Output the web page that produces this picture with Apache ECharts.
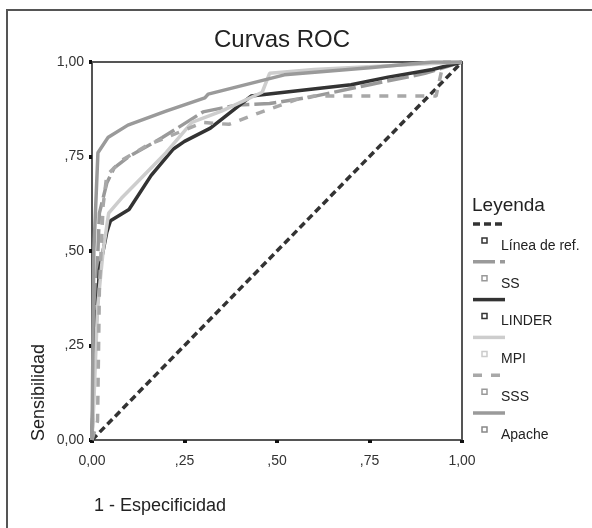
<!DOCTYPE html>
<html>
<head>
<meta charset="utf-8">
<script src="https://cdn.jsdelivr.net/npm/echarts@6/dist/echarts.min.js"></script>
<style>
  html, body { margin: 0; padding: 0; background: #fff; }
  #chart { width: 592px; height: 528px; }
</style>
</head>
<body>
<div id="chart"></div>
<script>
// ROC points as [1 - especificidad, sensibilidad]
const refLine = [[0, 0], [1, 1]];
const ssPts = [[0, 0], [0.01, 0.35], [0.02, 0.6], [0.04, 0.68], [0.06, 0.72], [0.1, 0.75], [0.19, 0.8],
  [0.3, 0.868], [0.39, 0.886], [0.48, 0.89], [0.59, 0.907], [0.75, 0.94], [0.9, 0.97], [1, 1]];
const linderPts = [[0, 0], [0.005, 0.2], [0.02, 0.45], [0.04, 0.55], [0.05, 0.58], [0.1, 0.61], [0.16, 0.7],
  [0.22, 0.77], [0.25, 0.79], [0.32, 0.825], [0.43, 0.91], [0.52, 0.92], [0.7, 0.94], [0.8, 0.96],
  [0.92, 0.98], [1, 1]];
const mpiPts = [[0, 0], [0.005, 0.1], [0.015, 0.35], [0.03, 0.5], [0.045, 0.6], [0.08, 0.64], [0.12, 0.68],
  [0.2, 0.76], [0.27, 0.84], [0.35, 0.87], [0.46, 0.92], [0.48, 0.97], [0.6, 0.98], [0.8, 0.99], [1, 1]];
const sssPts = [[0, 0], [0.015, 0.05], [0.02, 0.4], [0.03, 0.62], [0.04, 0.7], [0.08, 0.74], [0.15, 0.78],
  [0.25, 0.82], [0.3, 0.84], [0.37, 0.835], [0.45, 0.865], [0.55, 0.9], [0.6, 0.91], [0.93, 0.91],
  [0.95, 1], [1, 1]];
const apachePts = [[0, 0], [0.005, 0.5], [0.016, 0.76], [0.043, 0.8], [0.097, 0.833], [0.2, 0.87],
  [0.305, 0.905], [0.314, 0.915], [0.52, 0.966], [0.75, 0.985], [0.92, 1], [1, 1]];

const legendNames = ["Línea de ref.", "SS", "LINDER", "MPI", "SSS", "Apache"];
const tickLabels = { 0: "0,00", 0.25: ",25", 0.5: ",50", 0.75: ",75", 1: "1,00" };

const styles = [
  { color: "#333", type: [7, 4], box: "#333" },
  { color: "#9a9a9a", type: [22, 5], box: "#999" },
  { color: "#333", type: "solid", box: "#333" },
  { color: "#cdcdcd", type: "solid", box: "#ccc" },
  { color: "#a8a8a8", type: [9, 9], box: "#999" },
  { color: "#9a9a9a", type: "solid", box: "#888" }
];
const allPts = [refLine, ssPts, linderPts, mpiPts, sssPts, apachePts];
const font = "Liberation Sans";

const chart = echarts.init(document.getElementById("chart"));

const series = allPts.map((pts, i) => ({
  name: legendNames[i],
  type: "line",
  data: pts,
  showSymbol: false,
  silent: true,
  z: i === 0 ? 1 : 2 + i,
  lineStyle: { color: styles[i].color, width: 3.5, type: styles[i].type }
}));

// legend drawn as graphic: line sample above, small box + label below
const legendGraphics = [{
  type: "text", left: 472, top: 196,
  style: { text: "Leyenda", fontSize: 19, fontFamily: font, fill: "#222" }
}];
legendNames.forEach((name, i) => {
  const y = 224 + i * 37.8;
  legendGraphics.push({
    type: "line",
    shape: { x1: 473, y1: y, x2: 505, y2: y },
    style: { stroke: styles[i].color, lineWidth: 3.5, lineDash: styles[i].type === "solid" ? null : styles[i].type }
  });
  legendGraphics.push({
    type: "rect",
    shape: { x: 482, y: y + 14, width: 5, height: 5 },
    style: { fill: "#fff", stroke: styles[i].box, lineWidth: 1.5 }
  });
  legendGraphics.push({
    type: "text", left: 501, top: y + 15,
    style: { text: name, fontSize: 14, fontFamily: font, fill: "#222" }
  });
});

const option = {
  animation: false,
  backgroundColor: "#fff",
  title: {
    text: "Curvas ROC",
    left: 277, top: 23, textAlign: "center",
    textStyle: { fontSize: 24, fontWeight: "normal", color: "#222", fontFamily: font }
  },
  grid: { left: 92, top: 62, width: 370, height: 378, show: true, borderColor: "#555", borderWidth: 2,
    outerBoundsMode: "none" },
  xAxis: {
    type: "value", min: 0, max: 1, interval: 0.25,
    axisLine: { lineStyle: { color: "#555", width: 2 } },
    axisTick: { show: true, length: 3, lineStyle: { color: "#111", width: 4 } },
    axisLabel: { formatter: v => tickLabels[v], fontSize: 14, color: "#333", margin: 14, fontFamily: font },
    splitLine: { show: false }
  },
  yAxis: {
    type: "value", min: 0, max: 1, interval: 0.25,
    axisLine: { lineStyle: { color: "#555", width: 2 } },
    axisTick: { show: true, length: 3, lineStyle: { color: "#111", width: 4 } },
    axisLabel: { formatter: v => tickLabels[v], fontSize: 14, color: "#333", margin: 8, fontFamily: font },
    splitLine: { show: false }
  },
  graphic: [
    { type: "rect", shape: { x: 7, y: 10, width: 640, height: 560 }, style: { fill: null, stroke: "#555", lineWidth: 2 }, z: -1 },
    { type: "text", x: 94, y: 497, style: { text: "1 - Especificidad", fontSize: 18, fontFamily: font, fill: "#222" } },
    { type: "text", x: 30, y: 441, rotation: Math.PI / 2,
      style: { text: "Sensibilidad", fontSize: 18, fontFamily: font, fill: "#222" } }
  ].concat(legendGraphics),
  series: series
};

chart.setOption(option);
</script>
</body>
</html>
